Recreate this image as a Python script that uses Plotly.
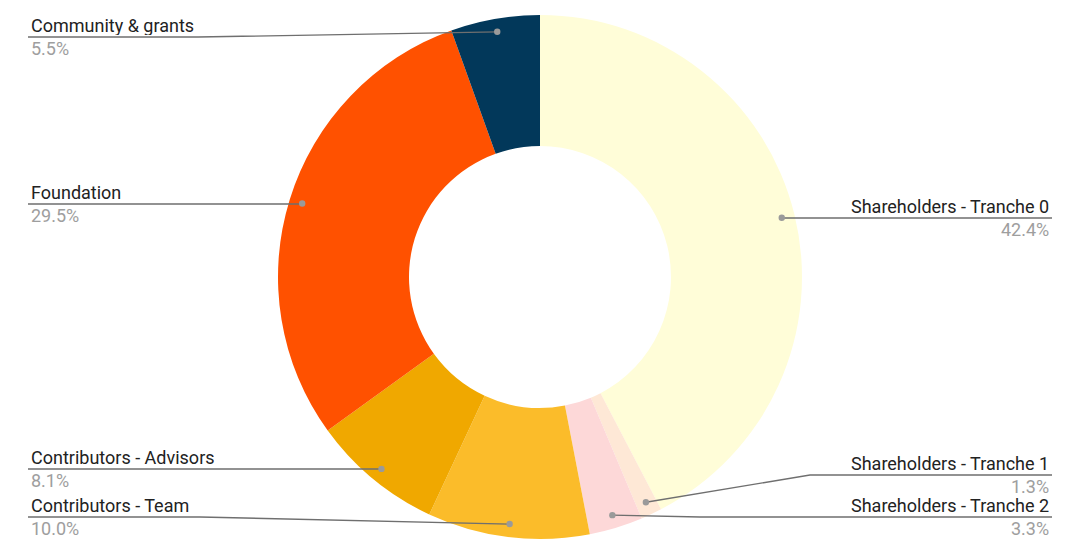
import math
import plotly.graph_objects as go

# ---- data ----
labels = ["Shareholders - Tranche 0", "Shareholders - Tranche 1", "Shareholders - Tranche 2",
          "Contributors - Team", "Contributors - Advisors", "Foundation", "Community & grants"]
values = [42.4, 1.3, 3.3, 10.0, 8.1, 29.5, 5.5]
colors = ["#FFFDD8", "#FEE8D6", "#FDD8D8", "#FBBC2A", "#F0A800", "#FF5100", "#02385A"]

# ---- label layout (side, underline y in px, x where the underline ends toward the pie) ----
label_side = ["right", "right", "right", "left", "left", "left", "left"]
label_line_y = [218, 475, 517, 517, 469, 204, 37]
label_bend_x = [782, 810, 700, 200, 381, 300, 198]

W, H = 1080, 552
CX, CY, R = 540, 277, 262
DOT_FRAC = 0.95
LEFT_X, RIGHT_X = 28, 1052
FS = 18
BOX_H = 19

def px(x):
    return x / W

def py(y):
    return 1 - y / H

fig = go.Figure(go.Pie(
    labels=labels, values=values, sort=False, direction="clockwise", rotation=0,
    hole=0.5, marker=dict(colors=colors, line=dict(width=0)),
    textinfo="none", showlegend=False,
    domain=dict(x=[0, 1], y=[1 - (CY + R) / H, 1 - (CY - R) / H]),
))

total = sum(values)
shapes, annotations = [], []
cum = 0.0
for lab, v, side, ly, bx in zip(labels, values, label_side, label_line_y, label_bend_x):
    mid = (cum + v / 2) / total * 2 * math.pi
    cum += v
    dx = CX + DOT_FRAC * R * math.sin(mid)
    dy = CY - DOT_FRAC * R * math.cos(mid)
    edge = LEFT_X if side == "left" else RIGHT_X
    path = f"M {px(edge)},{py(ly)} L {px(bx)},{py(ly)} L {px(dx)},{py(dy)}"
    shapes.append(dict(type="path", xref="paper", yref="paper", path=path,
                       line=dict(color="#6f6f6f", width=1.3)))
    shapes.append(dict(type="circle", xref="paper", yref="paper", xsizemode="pixel", ysizemode="pixel",
                       xanchor=px(dx), yanchor=py(dy), x0=-3.2, x1=3.2, y0=-3.2, y1=3.2,
                       fillcolor="#9a9a9a", line=dict(width=0)))
    tx = px(30) if side == "left" else px(1050)
    xa = "left" if side == "left" else "right"
    annotations.append(dict(x=tx, y=py(ly - 1), xref="paper", yref="paper", text=lab, showarrow=False,
                            xanchor=xa, yanchor="bottom", borderpad=0, height=BOX_H,
                            font=dict(family="Roboto", size=FS, color="#222222")))
    annotations.append(dict(x=tx, y=py(ly + 1), xref="paper", yref="paper", text=f"{v:.1f}%", showarrow=False,
                            xanchor=xa, yanchor="top", borderpad=0, height=BOX_H,
                            font=dict(family="Roboto", size=FS, color="#9e9e9e")))

fig.update_layout(width=W, height=H, margin=dict(l=0, r=0, t=0, b=0),
                  paper_bgcolor="white", plot_bgcolor="white",
                  shapes=shapes, annotations=annotations)
fig.write_html("out.html", config={"displayModeBar": False},
               post_script="document.body.style.margin='0';document.body.style.overflow='hidden';")
